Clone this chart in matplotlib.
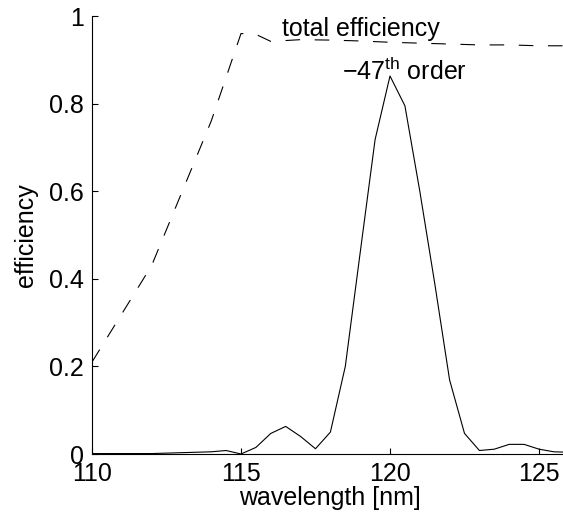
import matplotlib
matplotlib.use("Agg")
import matplotlib.pyplot as plt

# -47th order efficiency (solid)
wl_order = [110, 111, 112, 113, 114, 114.5, 115, 115.5, 116, 116.5, 117, 117.5, 118, 118.5,
            119, 119.5, 120, 120.5, 121, 121.5, 122, 122.5, 123, 123.5, 124, 124.5, 125, 125.5, 126]
eff_order = [0.001, 0.001, 0.001, 0.003, 0.005, 0.008, 0.0, 0.015, 0.047, 0.063, 0.040, 0.012, 0.05, 0.2,
             0.46, 0.718, 0.863, 0.795, 0.6, 0.39, 0.169, 0.047, 0.008, 0.011, 0.022, 0.022, 0.011, 0.005, 0.004]

# total efficiency (dashed)
wl_total = [110, 111, 112, 113, 114, 115, 115.5, 116, 117, 118, 119, 120, 121, 122, 123, 124, 125, 126]
eff_total = [0.21, 0.32, 0.43, 0.595, 0.76, 0.96, 0.958, 0.942, 0.946, 0.945, 0.943, 0.94, 0.938, 0.936,
             0.934, 0.934, 0.932, 0.932]

xticks = [110, 115, 120, 125]
yticks = [0, 0.2, 0.4, 0.6, 0.8, 1]
yticklabels = ["0", "0.2", "0.4", "0.6", "0.8", "1"]

plt.rcParams["font.family"] = "Liberation Sans"
plt.rcParams["font.size"] = 18
plt.rcParams["mathtext.fontset"] = "custom"
plt.rcParams["mathtext.rm"] = "Liberation Sans"
plt.rcParams["lines.scale_dashes"] = False

fig = plt.figure(figsize=(5.63, 5.21), dpi=100)
ax = fig.add_axes([92 / 563, 1 - 454 / 521, 476.8 / 563, 438 / 521])

ax.plot(wl_order, eff_order, color="black", linewidth=0.8)
ax.plot(wl_total, eff_total, color="black", linewidth=0.8, linestyle=(0, (10.5, 10.5)))

ax.set_xlim(110, 126)
ax.set_ylim(0, 1)
ax.set_xticks(xticks)
ax.set_yticks(yticks)
ax.set_yticklabels(yticklabels)
ax.tick_params(direction="in", length=4, width=0.8, pad=6)
ax.spines["top"].set_visible(False)
ax.spines["right"].set_visible(False)
for s in ["left", "bottom"]:
    ax.spines[s].set_linewidth(0.8)

ax.set_xlabel("wavelength [nm]", labelpad=0)
ax.set_ylabel("efficiency", labelpad=8)

ax.text(116.38, 0.954, "total efficiency", ha="left", va="baseline")
ax.text(118.39, 0.854, r"$-47^{\mathrm{th}}$ order", ha="left", va="baseline")

fig.savefig("out.png", dpi=100)
